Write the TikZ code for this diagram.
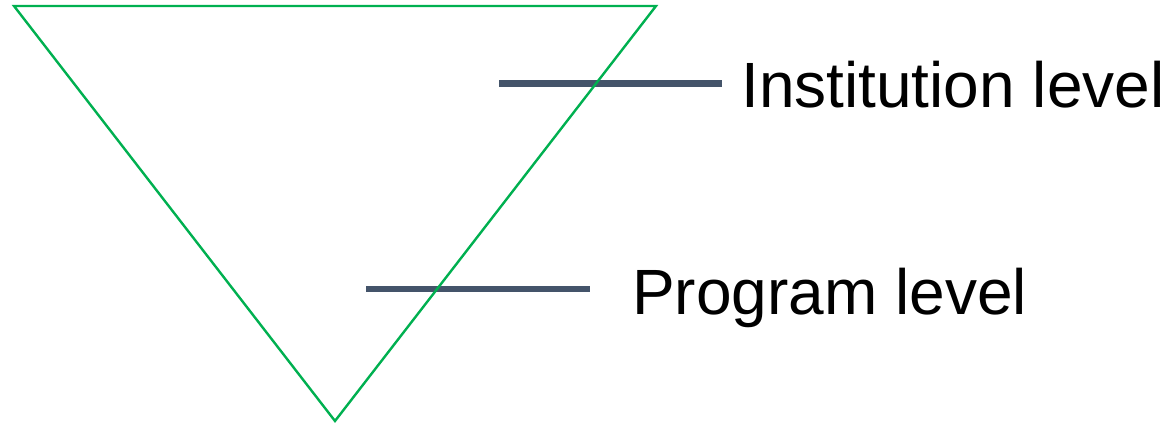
\documentclass[tikz,border=0pt]{standalone}
\usepackage{fontspec}
\setmainfont{Liberation Sans}
\definecolor{tgreen}{HTML}{00B050}
\definecolor{slate}{HTML}{44546A}
\begin{document}
\begin{tikzpicture}[x=1pt,y=-1pt,
  levelline/.style={draw=slate,line width=6.5pt},
  tri/.style={draw=tgreen,line width=2.4pt,line join=miter},
  label/.style={anchor=base west,inner sep=0pt,font=\fontsize{64}{70}\selectfont}]
\useasboundingbox (0,0) rectangle (1175,427);
\coordinate (i1) at (499,83.5);
\coordinate (i2) at (722,83.5);
\coordinate (p1) at (366,289);
\coordinate (p2) at (590,289);
\draw[levelline] (i1) -- (i2);
\draw[levelline] (p1) -- (p2);
\coordinate (tl) at (14,6);
\coordinate (tr) at (656,6);
\coordinate (bt) at (335,421);
\draw[tri] (tl) -- (tr) -- (bt) -- cycle;
\node[label] (inst) at (741,108) {Institution level};
\node[label] (prog) at (632,315) {Program level};
\end{tikzpicture}
\end{document}
